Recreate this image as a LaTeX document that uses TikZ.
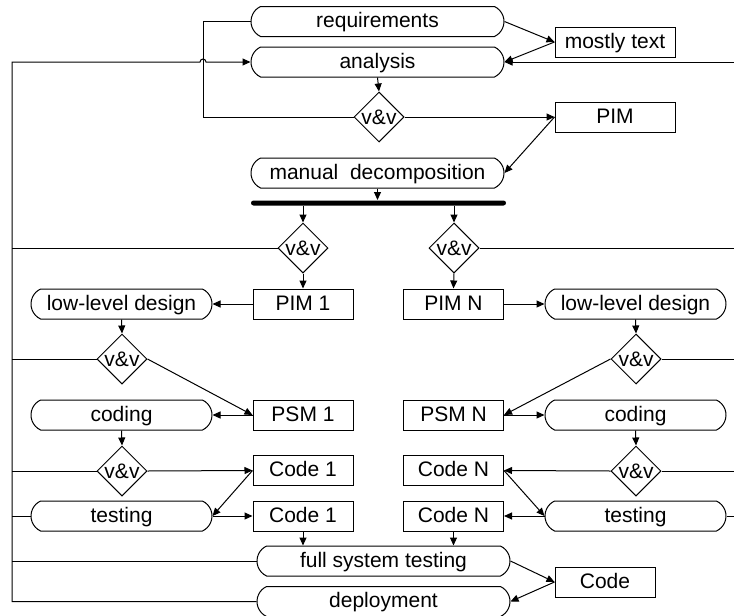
\documentclass[tikz,border=0pt]{standalone}
\usepackage{fontspec}
\setmainfont{Liberation Sans}
\usetikzlibrary{shapes.geometric,shapes.misc,arrows.meta}

\begin{document}
\begin{tikzpicture}[x=0.5pt,y=-0.5pt,line width=0.5pt,
  font=\fontsize{10.5}{12}\selectfont,
  act/.style={draw,rounded rectangle,rounded rectangle arc length=130,text height=7.5pt,text depth=1.5pt,inner ysep=3pt,inner xsep=0pt,minimum width=126.5pt},
  art/.style={draw,rectangle,text height=7.5pt,text depth=1.5pt,inner ysep=3pt,inner xsep=0pt,minimum width=50pt},
  check/.style={draw,diamond,inner sep=0pt,minimum size=25pt},
  flow/.style={-{Triangle[length=4pt,width=3.5pt]}}]
        \useasboundingbox (0,0) rectangle (734,616);
        \node[act] (req) at (377.5,21.5) {requirements};
        \node[act] (an) at (377.5,62) {analysis};
        \node[art,minimum width=60pt] (txt) at (615,42) {mostly text};
        \node[check] (vv0) at (379,117) {v\&v};
        \node[art,minimum width=60pt] (pim) at (615,117) {PIM};
        \node[act] (md) at (377.5,173) {manual~ decomposition};
        \node[fill,rounded corners=1.25pt,minimum width=127.5pt,minimum height=2.5pt,inner sep=0] (bar) at (378.5,203) {};
        \node[check] (vv1) at (303,248) {v\&v};
        \node[check] (vvn) at (454,248) {v\&v};
        \node[art] (pim1) at (303,304) {PIM 1};
        \node[art] (pimn) at (453.5,304) {PIM N};
        \node[act,minimum width=90.5pt] (lld1) at (121.5,304) {low-level design};
        \node[act,minimum width=90.5pt] (lldn) at (635.5,304) {low-level design};
        \node[check] (vv2) at (122,359) {v\&v};
        \node[check] (vv3) at (636,359) {v\&v};
        \node[art] (psm1) at (303,415) {PSM 1};
        \node[art] (psmn) at (453.5,415) {PSM N};
        \node[act,minimum width=90.5pt] (cod1) at (121.5,415) {coding};
        \node[act,minimum width=90.5pt] (codn) at (635.5,415) {coding};
        \node[check] (vv4) at (122,471) {v\&v};
        \node[check] (vv5) at (636,471) {v\&v};
        \node[art] (c1) at (303,470.5) {Code 1};
        \node[art] (cn) at (453.5,470.5) {Code N};
        \node[act,minimum width=90.5pt] (tst1) at (121.5,516) {testing};
        \node[act,minimum width=90.5pt] (tstn) at (635.5,516) {testing};
        \node[art] (c1b) at (303,516) {Code 1};
        \node[art] (cnb) at (453.5,516) {Code N};
        \node[act] (fst) at (383.5,561) {full system testing};
        \node[art] (code) at (605,582) {Code};
        \node[act] (dep) at (383.5,601.5) {deployment};
        \coordinate (lt) at (12,62);
        \coordinate (lb) at (12,601.5);
        \coordinate (rt) at (734,62);
        \coordinate (hop) at (203,62);
        % feedback loops
        \draw (req.west) -- (req.west -| hop) |- (vv0.west);
        \draw[flow] (dep.west) -- (lb) -- (lt) -- ([xshift=-1.5pt]hop) arc[start angle=180,end angle=0,radius=1.5pt] -- (an.west);
        \draw[flow] (rt) -- (an.east);
        \foreach \n in {vv1,vv2,vv4,tst1,fst}
          \draw (\n.west) -- (\n.west -| lt);
        \foreach \n in {vvn,vv3,vv5,tstn}
          \draw (\n.east) -- (\n.east -| rt);
        % flow
        \foreach \a/\b in {req.east/txt.west,txt.west/an.east,an.south/vv0.north,vv0.east/pim.west,pim.west/md.east,
            vv1.south/pim1.north,vvn.south/pimn.north,pim1.west/lld1.east,pimn.east/lldn.west,
            lld1.south/vv2.north,lldn.south/vv3.north,vv2.east/psm1.west,vv3.west/psmn.east,
            psm1.west/cod1.east,psmn.east/codn.west,cod1.south/vv4.north,codn.south/vv5.north,
            vv4.east/c1.west,vv5.west/cn.east,c1.west/tst1.east,cn.east/tstn.west,
            tst1.east/c1b.west,tstn.west/cnb.east,fst.east/code.west,code.west/dep.east}
          \draw[flow] (\a) -- (\b);
        \draw[flow] (md.south) -- (md.south |- bar.north);
        \draw[flow] (vv1.north |- bar.south) -- (vv1.north);
        \draw[flow] (vvn.north |- bar.south) -- (vvn.north);
        \draw[flow] (c1b.south) -- (c1b.south |- fst.north);
        \draw[flow] (cnb.south) -- (cnb.south |- fst.north);
      \end{tikzpicture}
\end{document}
